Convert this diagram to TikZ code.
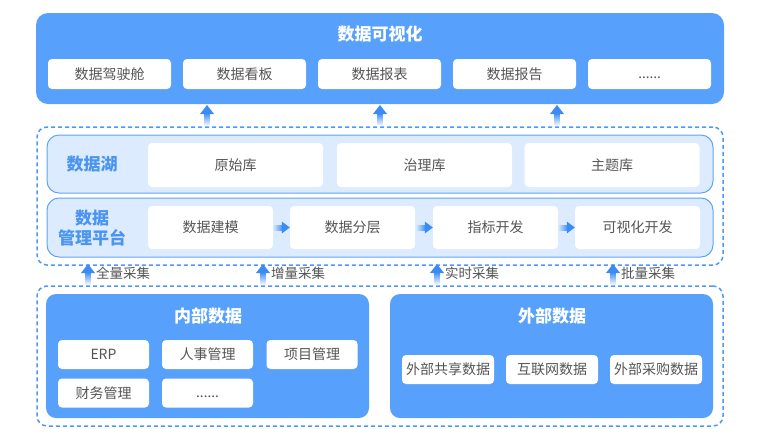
\documentclass[tikz,border=0pt]{standalone}
\usepackage{fontspec}
\setmainfont{Noto Sans CJK SC}
\newfontfamily\latinfont{Noto Sans}
\usepackage{tikz}

\definecolor{mainblue}{HTML}{57A1FD}
\definecolor{lightfill}{HTML}{DDEBFE}
\definecolor{lineblue}{HTML}{5FA5F6}
\definecolor{dashblue}{HTML}{4C9AF5}
\definecolor{arrowblue}{HTML}{3A8BF5}
\definecolor{labelblue}{HTML}{4A94F2}
\definecolor{textgray}{HTML}{555555}

\begin{document}
\begin{tikzpicture}[x=1pt,y=-1pt,
    bluebox/.style={fill=mainblue, rounded corners=12pt},
    lakebox/.style={fill=lightfill, draw=lineblue, line width=1pt, rounded corners=12pt,
        minimum width=666, minimum height=58},
    whitebox/.style={fill=white, rounded corners=4pt, text=textgray,
        font=\fontsize{14}{16}\selectfont, inner sep=0pt},
    dotstext/.style={font=\latinfont\fontsize{14}{16}\selectfont\bfseries,
        text height=11pt, text depth=3pt},
    dashbox/.style={draw=dashblue, dashed, dash pattern=on 4pt off 3pt, line width=1.5pt,
        rounded corners=10pt, minimum width=686},
    titletext/.style={text=white, font=\fontsize{17}{20}\selectfont\bfseries},
    sidetext/.style={text=labelblue, align=center, font=\fontsize{17}{20}\selectfont\bfseries},
    acqtext/.style={text=textgray, anchor=west, font=\fontsize{13.5}{16}\selectfont, inner sep=0pt},
    pics/uparrow/.style={code={
        \shade[top color=arrowblue, bottom color=white] (-2.5,8) rectangle (2.5,21);
        \fill[arrowblue] (0,0) -- (7,9) -- (-7,9) -- cycle;
    }},
    pics/rightarrow/.style={code={
        \shade[left color=lightfill, right color=arrowblue] (-17,-2.5) rectangle (-7,2.5);
        \fill[arrowblue] (0,0) -- (-8,-6) -- (-8,6) -- cycle;
    }}]

    \useasboundingbox (0,0) rectangle (760,440);

    % Data visualisation layer
    \node[bluebox, minimum width=688, minimum height=91] (vis) at (380,58.5) {};
    \node[titletext] (vistitle) at (380,34) {数据可视化};
    \node[whitebox, minimum width=123, minimum height=30] (v1) at (109.5,74) {数据驾驶舱};
    \node[whitebox, minimum width=123, minimum height=30] (v2) at (244.5,74) {数据看板};
    \node[whitebox, minimum width=123, minimum height=30] (v3) at (379.5,74) {数据报表};
    \node[whitebox, minimum width=123, minimum height=30] (v4) at (514.5,74) {数据报告};
    \node[whitebox, dotstext, minimum width=123, minimum height=30] (v5) at (649.5,74) {......};

    % Arrows up to the visualisation layer
    \pic at (207,105) {uparrow};
    \pic at (380,105) {uparrow};
    \pic at (557,105) {uparrow};

    % Middle layer: data lake and platform
    \node[dashbox, minimum height=138] (mid) at (380,196) {};
    \node[lakebox] (lake) at (380,164) {};
    \node[sidetext] (laketitle) at (92,164.5) {数据湖};
    \node[whitebox, minimum width=175, minimum height=44] (l1) at (235.5,165) {原始库};
    \node[whitebox, minimum width=175, minimum height=44] (l2) at (424.5,165) {治理库};
    \node[whitebox, minimum width=175, minimum height=44] (l3) at (612,165) {主题库};

    \node[lakebox, minimum height=59] (plat) at (380,227.5) {};
    \node[sidetext] (plattitle) at (92,228) {数据\\管理平台};
    \node[whitebox, minimum width=125, minimum height=43] (p1) at (210.5,227.5) {数据建模};
    \node[whitebox, minimum width=125, minimum height=43] (p2) at (352.5,227.5) {数据分层};
    \node[whitebox, minimum width=125, minimum height=43] (p3) at (495.5,227.5) {指标开发};
    \node[whitebox, minimum width=125, minimum height=43] (p4) at (637.5,227.5) {可视化开发};

    % Flow through the platform
    \pic at (p2.west) {rightarrow};
    \pic at (p3.west) {rightarrow};
    \pic at (p4.west) {rightarrow};

    % Acquisition
    \pic at (88,264) {uparrow};
    \node[acqtext] (acq1) at (96,273) {全量采集};
    \pic at (263,264) {uparrow};
    \node[acqtext] (acq2) at (271,273) {增量采集};
    \pic at (437,264) {uparrow};
    \node[acqtext] (acq3) at (445,273) {实时采集};
    \pic at (613,264) {uparrow};
    \node[acqtext] (acq4) at (621,273) {批量采集};

    % Sources
    \node[dashbox, minimum height=140] (src) at (380,356) {};

    \node[bluebox, rounded corners=10pt, minimum width=323, minimum height=124] (inner) at (207.5,356) {};
    \node[titletext] (innertitle) at (208,316) {内部数据};
    \node[whitebox, minimum width=91, minimum height=29] (i1) at (103.5,354.5) {ERP};
    \node[whitebox, minimum width=91, minimum height=29] (i2) at (207.5,354.5) {人事管理};
    \node[whitebox, minimum width=91, minimum height=29] (i3) at (312,354.5) {项目管理};
    \node[whitebox, minimum width=91, minimum height=29] (i4) at (103.5,393) {财务管理};
    \node[whitebox, dotstext, minimum width=91, minimum height=29] (i5) at (207.5,393) {......};

    \node[bluebox, rounded corners=10pt, minimum width=323, minimum height=124] (outer) at (551.5,356) {};
    \node[titletext] (outertitle) at (552,316) {外部数据};
    \node[whitebox, minimum width=92, minimum height=29] (o1) at (448,369.5) {外部共享数据};
    \node[whitebox, minimum width=92, minimum height=29] (o2) at (552,369.5) {互联网数据};
    \node[whitebox, minimum width=92, minimum height=29] (o3) at (656,369.5) {外部采购数据};

\end{tikzpicture}
\end{document}
